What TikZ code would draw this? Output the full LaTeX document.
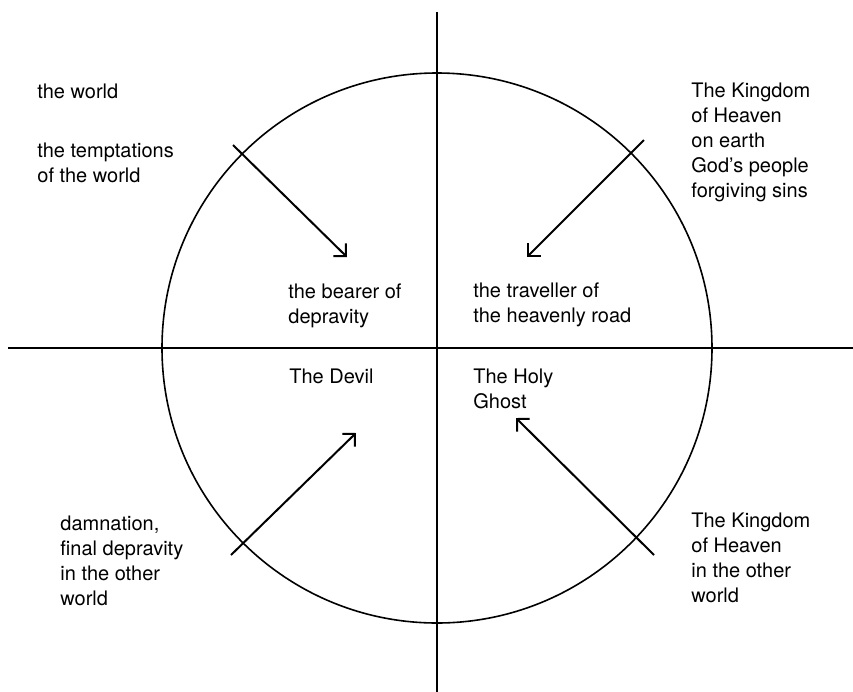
\documentclass[tikz,border=0pt]{standalone}
\usepackage{fontspec}
\setmainfont{TeX Gyre Heros}
\usepackage{tikz}
\usetikzlibrary{arrows.meta}
\tikzstyle{word} = [anchor=north west, inner sep=0, align=left,
font=\fontsize{10}{12.5}\selectfont]
\tikzstyle{axis} = [line width=1pt]
\tikzstyle{arrow} = [line width=1pt, -{Straight Barb[length=4.5pt, width=9pt]}]

\begin{document}
\begin{tikzpicture}[x=0.5pt, y=-0.5pt]
\useasboundingbox (0,0) rectangle (853,692);

% ------------------------- cross and circle -------------------------
\coordinate (o) at (437,348);
\coordinate (top) at (437,12);
\coordinate (bottom) at (437,692);
\coordinate (left) at (8,348);
\coordinate (right) at (853,348);
\draw[axis](top)--(bottom);
\draw[axis](left)--(right);
\draw[line width=0.8pt](o) circle [radius=137.5pt];

% ------------------------- nodes -------------------------
% ----- outside, top
\node(world)[word] at (37,83.6) {the world};
\node(tempt)[word] at (37,142.6) {the temptations\\of the world};
\node(kearth)[word] at (691,82.6) {The Kingdom\\of Heaven\\on earth\\God's people\\forgiving sins};
% ----- inside
\node(bearer)[word] at (288,283.6) {the bearer of\\depravity};
\node(traveller)[word] at (473,282.6) {the traveller of\\the heavenly road};
\node(devil)[word] at (289,368.6) {The Devil};
\node(ghost)[word] at (473,368.6) {The Holy\\Ghost};
% ----- outside, bottom
\node(damn)[word] at (60,515.6) {damnation,\\final depravity\\in the other\\world};
\node(kother)[word] at (691,512.6) {The Kingdom\\of Heaven\\in the other\\world};

% ------------------------- arrows -------------------------
\coordinate (ul) at (233,145);
\coordinate (ulend) at (347,257);
\coordinate (ur) at (644,140);
\coordinate (urend) at (527,257);
\coordinate (ll) at (231,555);
\coordinate (llend) at (356,433);
\coordinate (lr) at (654,555);
\coordinate (lrend) at (516,418);
\draw[arrow](ul)--(ulend);
\draw[arrow](ur)--(urend);
\draw[arrow](ll)--(llend);
\draw[arrow](lr)--(lrend);

\end{tikzpicture}
\end{document}
